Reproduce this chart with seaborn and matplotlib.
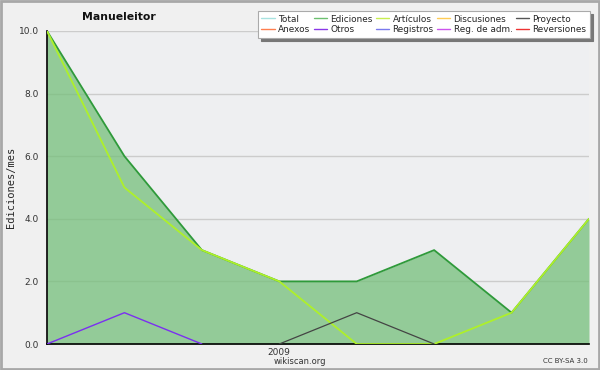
import pandas as pd
import numpy as np
import matplotlib
matplotlib.use("Agg")
import matplotlib.pyplot as plt
import matplotlib.patches as mpatches
import matplotlib.lines as mlines
from matplotlib.font_manager import FontProperties
import seaborn as sns

# === Data ===
months = ["2008-10", "2008-11", "2008-12", "2009-01", "2009-02", "2009-03", "2009-04", "2009-05"]
tick_labels = ["", "", "", "2009", "", "", "", ""]
total = [10, 6, 3, 2, 2, 3, 1, 4]
ediciones = [10, 6, 3, 2, 2, 3, 1, 4]
articulos = [10, 5, 3, 2, 0, 0, 1, 4]
otros = [0, 1, 0, np.nan, np.nan, np.nan, np.nan, np.nan]
proyecto = [np.nan, np.nan, np.nan, 0, 1, 0, np.nan, np.nan]

legend_names = ["Total", "Anexos", "Ediciones", "Otros", "Artículos", "Registros",
                "Discusiones", "Reg. de adm.", "Proyecto", "Reversiones"]
legend_colors = ["#a8e2e0", "#ff7f4f", "#6cc070", "#8a38e8", "#c8ee50", "#7a7aee",
                 "#ffcc55", "#cc55ee", "#555555", "#ee3333"]

df = pd.DataFrame({"x": range(len(months)), "Total": total, "Ediciones": ediciones,
                   "Artículos": articulos, "Otros": otros, "Proyecto": proyecto})

# === Setup ===
sns.set_style("white")
plt.rcParams["font.family"] = ["DejaVu Sans"]

fig = plt.figure(figsize=(6, 3.7), dpi=100, facecolor="#f0f0f0")
ax = fig.add_axes([47 / 600, 1 - 344 / 370, 542 / 600, 313 / 370])
ax.set_facecolor("#eeeff1")

# filled area for edits (semi-transparent so the grid shows through)
ax.fill_between(df["x"], df["Ediciones"], color="#75bf7a", alpha=0.75, lw=0, zorder=2)
sns.lineplot(data=df, x="x", y="Total", color="#c8ece8", lw=0.6, ax=ax, zorder=3)
sns.lineplot(data=df, x="x", y="Ediciones", color="#2f9a3a", lw=1.3, ax=ax, zorder=3)
sns.lineplot(data=df, x="x", y="Artículos", color="#aef02a", lw=1.3, ax=ax, zorder=4)
sns.lineplot(data=df, x="x", y="Otros", color="#7b2ff0", lw=1.0, ax=ax, zorder=4)
sns.lineplot(data=df, x="x", y="Proyecto", color="#444444", lw=0.9, ax=ax, zorder=4)

ax.set_xlim(0, len(months) - 1)
ax.set_ylim(0, 10)
ax.set_xticks(df["x"])
ax.set_xticklabels(tick_labels, fontsize=6.5, color="#333333")
ax.set_yticks(np.arange(0, 10.1, 2))
ax.set_yticklabels([f"{v:.1f}" for v in np.arange(0, 10.1, 2)], fontsize=6.5, color="#333333")
ax.set_yticks(np.arange(0, 10.1, 0.5), minor=True)
ax.tick_params(axis="x", which="major", length=3, width=1, color="black", pad=0)
ax.tick_params(axis="y", which="major", length=5, width=1, color="black", pad=1)
ax.tick_params(axis="y", which="minor", length=3, width=1, color="black")
ax.yaxis.grid(True, color="#cccccc", lw=1, zorder=1)
ax.set_axisbelow(True)
for s in ["top", "right"]:
    ax.spines[s].set_visible(False)
for s in ["left", "bottom"]:
    ax.spines[s].set_color("black")
    ax.spines[s].set_linewidth(1.2)
ax.set_xlabel("")
ax.set_ylabel("Ediciones/mes", family="DejaVu Sans Mono", fontsize=7.5)
ax.yaxis.set_label_coords(-31 / 542, 0.5)

# === Legend ===
handles = [mlines.Line2D([], [], color=c, lw=1) for c in legend_colors]
leg = fig.legend(handles, legend_names, ncol=5, loc="upper right",
                 bbox_to_anchor=(590 / 600, 1 - 11 / 370),
                 prop=FontProperties(size=6.4),
                 frameon=True, fancybox=False, shadow={"color": "#777777", "alpha": 1},
                 handlelength=1.5, handletextpad=0.35, columnspacing=0.4,
                 labelspacing=0.2, borderpad=0.4, borderaxespad=0)
leg.get_frame().set_edgecolor("#aaaaaa")
leg.get_frame().set_facecolor("white")
leg.get_frame().set_linewidth(0.8)

# === Texts ===
fig.text(119 / 600, 1 - 17 / 370, "Manueleitor", fontsize=7.8, fontweight="bold",
         ha="center", va="center", color="#111111")
fig.text(300 / 600, 1 - 362 / 370, "wikiscan.org", fontsize=6, ha="center",
         va="center", color="#333333")
fig.text(588 / 600, 1 - 361 / 370, "CC BY-SA 3.0", fontsize=5, ha="right",
         va="center", color="#333333")

fig.patches.append(mpatches.Rectangle((0.001, 0.002), 0.997, 0.996, transform=fig.transFigure,
                                      fill=False, edgecolor="#a8a8a8", lw=2))

plt.savefig("out.png", dpi=100, facecolor=fig.get_facecolor())
plt.close()
